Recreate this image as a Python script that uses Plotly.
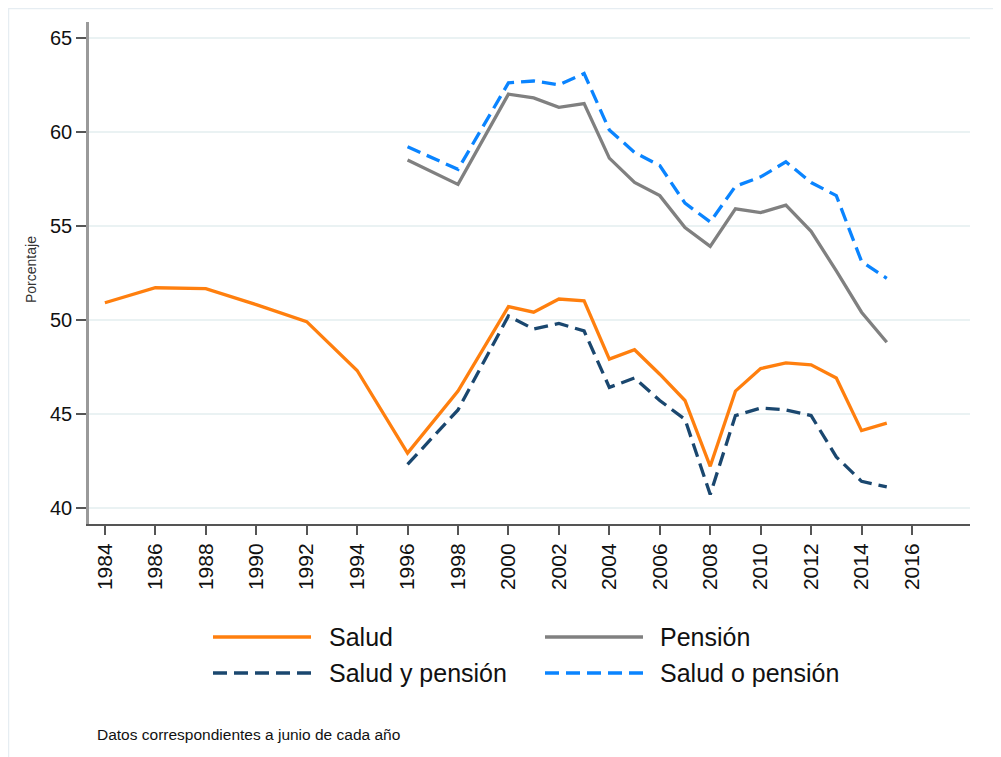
import plotly.graph_objects as go

# ---- data ----
years_salud = [1984, 1986, 1988, 1990, 1992, 1994, 1996, 1998,
               2000, 2001, 2002, 2003, 2004, 2005, 2006, 2007,
               2008, 2009, 2010, 2011, 2012, 2013, 2014, 2015]
salud = [50.9, 51.7, 51.65, 50.8, 49.9, 47.3, 42.9, 46.2,
         50.7, 50.4, 51.1, 51.0, 47.9, 48.4, 47.1, 45.7,
         42.2, 46.2, 47.4, 47.7, 47.6, 46.9, 44.1, 44.5]

years_rest = [1996, 1998, 2000, 2001, 2002, 2003, 2004, 2005, 2006,
              2007, 2008, 2009, 2010, 2011, 2012, 2013, 2014, 2015]
pension = [58.5, 57.2, 62.0, 61.8, 61.3, 61.5, 58.6, 57.3, 56.6,
           54.9, 53.9, 55.9, 55.7, 56.1, 54.7, 52.6, 50.4, 48.8]
salud_y_pension = [42.3, 45.2, 50.2, 49.5, 49.8, 49.4, 46.4, 46.9, 45.7,
                   44.7, 40.7, 44.9, 45.3, 45.2, 44.9, 42.7, 41.4, 41.1]
salud_o_pension = [59.2, 58.0, 62.6, 62.7, 62.5, 63.1, 60.1, 58.9, 58.2,
                   56.2, 55.2, 57.1, 57.6, 58.4, 57.3, 56.6, 53.1, 52.2]

x_ticks = list(range(1984, 2017, 2))
y_ticks = [40, 45, 50, 55, 60, 65]

names = ["Salud", "Pensión", "Salud y pensión", "Salud o pensión"]
colors = ["#ff7f0e", "#808080", "#1a476f", "#0a84ff"]
DASH = "14px,7px"
dashes = ["solid", "solid", DASH, DASH]

FONT = "Liberation Sans, Arial, sans-serif"

W, H = 1001, 757
OFF = 8  # page body margin
# plot area in screen pixels
Ls, Rs, Ts, Bs = 89, 970, 22, 524

def px(xp):
    return (xp - Ls) / (Rs - Ls)

def py(yp):
    return (Bs - yp) / (Bs - Ts)

fig = go.Figure()
series = [(years_salud, salud), (years_rest, pension),
          (years_rest, salud_y_pension), (years_rest, salud_o_pension)]
for (xs, ys), n, c, d in zip(series, names, colors, dashes):
    fig.add_trace(go.Scatter(x=xs, y=ys, mode="lines", name=n,
                             line=dict(color=c, width=3.3, dash=d),
                             showlegend=False))

shapes = []
annotations = []

# outer light frame
shapes.append(dict(type="rect", xref="paper", yref="paper",
                   x0=px(OFF + 0.5), x1=px(1030), y0=py(790), y1=py(OFF + 0.5),
                   line=dict(color="#e6edf2", width=1.5),
                   fillcolor="rgba(0,0,0,0)", layer="below"))

# manual legend (2 x 2)
legend_pos = [(213, 311, 327, 637), (545, 643, 658, 637),
              (213, 311, 327, 673), (545, 643, 658, 673)]
for (lx0, lx1, tx, ly), n, c, d in zip(legend_pos, names, colors, dashes):
    shapes.append(dict(type="line", xref="paper", yref="paper",
                       x0=px(lx0), x1=px(lx1), y0=py(ly), y1=py(ly),
                       line=dict(color=c, width=3.5, dash=d)))
    annotations.append(dict(xref="paper", yref="paper", x=px(tx), y=py(ly),
                            text=n, showarrow=False, xanchor="left",
                            yanchor="middle",
                            font=dict(family=FONT, size=25, color="#111111")))

annotations.append(dict(xref="paper", yref="paper", x=px(95), y=py(734),
                        text="Datos correspondientes a junio de cada año",
                        showarrow=False, xanchor="left", yanchor="middle",
                        font=dict(family=FONT, size=15.5, color="#111111")))

annotations.append(dict(xref="paper", yref="paper", x=px(31), y=py(270),
                        text="Porcentaje", showarrow=False, textangle=-90,
                        xanchor="center", yanchor="middle",
                        font=dict(family=FONT, size=14, color="#333333")))

fig.update_layout(
    width=W, height=H,
    margin=dict(l=Ls - OFF, r=W - (Rs - OFF), t=Ts - OFF, b=H - (Bs - OFF), pad=0),
    paper_bgcolor="white", plot_bgcolor="white",
    font=dict(family=FONT, color="#111111"),
    shapes=shapes, annotations=annotations,
    showlegend=False,
)
fig.update_xaxes(range=[1983.37, 2018.3], tickvals=x_ticks,
                 ticktext=[str(t) for t in x_ticks], tickangle=-90,
                 showgrid=False, zeroline=False,
                 showline=True, linecolor="#555555", linewidth=2,
                 ticks="outside", ticklen=9, tickwidth=1.5, tickcolor="#555555",
                 tickfont=dict(family=FONT, size=21, color="#111111"))
fig.update_yaxes(range=[39.13, 65.84], tickvals=y_ticks,
                 showgrid=True, gridcolor="#eaf2f3", gridwidth=1.5,
                 zeroline=False,
                 showline=True, linecolor="#9a9a9a", linewidth=2.5,
                 ticks="outside", ticklen=10, tickwidth=1.5, tickcolor="#555555",
                 tickfont=dict(family=FONT, size=20, color="#111111"))

fig.write_html("out.html")
